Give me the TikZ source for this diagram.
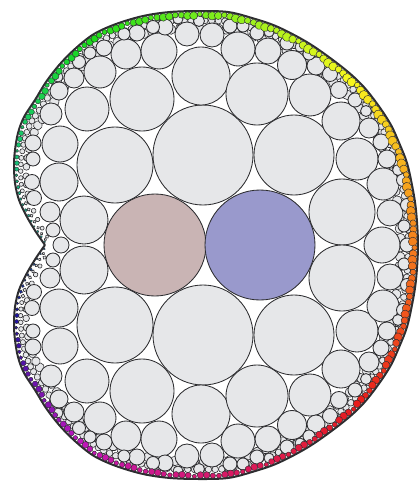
\documentclass[tikz,border=0pt]{standalone}
\usetikzlibrary{decorations.markings}
\definecolor{cfill}{RGB}{230,231,233}
\definecolor{cline}{RGB}{45,45,48}
\definecolor{cbrown}{RGB}{201,180,180}
\definecolor{cblue}{RGB}{153,153,204}
\tikzset{disc/.style={fill=cfill,draw=cline,line width=0.85pt},
  smalldisc/.style={fill=cfill,draw=cline,line width=0.6pt}}
\begin{document}
\begin{tikzpicture}[x=1pt,y=-1pt]
\useasboundingbox (0,0) rectangle (420,482);
% dark outer band
\draw[cline,line width=2pt,line join=round] plot[smooth,tension=0.55] coordinates {
(45,245) (36,232) (27,217) (19,200) (15,183) (14,165) (15,150) (18,133) (24,117) (35,100) (46,82) (60,64) (76,48) (94,34) (116,24) (143,16) (170,12) (200,11) (228,12) (252,18) (278,27) (310,44) (342,67) (362,85) (378,105) (391,125) (400,145) (407,163) (412,185) (416,210) (418,245)
(416,280) (412,305) (407,327) (400,345) (391,365) (378,385) (362,405) (342,423) (310,446) (278,463) (252,472) (228,478) (200,479) (170,478) (143,474) (116,466) (94,456) (76,442) (60,426) (46,408) (35,390) (24,373) (18,357) (15,340) (14,325) (15,307) (19,290) (27,273) (36,258) (45,245)};
% inner layers of small circles along the boundary (partly hidden by larger circles)
\path[postaction={decorate},decoration={markings,
 mark=between positions 0.004 and 0.996 step 10pt with {
   \pgfmathsetmacro\s{\pgfkeysvalueof{/pgf/decoration/mark info/distance from start}/\pgfdecoratedpathlength}
   \pgfmathsetmacro\f{min(1,min(0.35+\s*6,0.35+(1-\s)*6))}
   \pgfmathsetmacro\rr{4.8*\f}
   \pgfmathsetmacro\off{-17.5*\f}
   \draw[smalldisc] (0pt,\off pt) circle[radius=\rr pt];
 }}] plot[smooth,tension=0.55] coordinates {
(45,245) (36,232) (27,217) (19,200) (15,183) (14,165) (15,150) (18,133) (24,117) (35,100) (46,82) (60,64) (76,48) (94,34) (116,24) (143,16) (170,12) (200,11) (228,12) (252,18) (278,27) (310,44) (342,67) (362,85) (378,105) (391,125) (400,145) (407,163) (412,185) (416,210) (418,245)
(416,280) (412,305) (407,327) (400,345) (391,365) (378,385) (362,405) (342,423) (310,446) (278,463) (252,472) (228,478) (200,479) (170,478) (143,474) (116,466) (94,456) (76,442) (60,426) (46,408) (35,390) (24,373) (18,357) (15,340) (14,325) (15,307) (19,290) (27,273) (36,258) (45,245)};
\path[postaction={decorate},decoration={markings,
 mark=between positions 0.003 and 0.997 step 7pt with {
   \pgfmathsetmacro\s{\pgfkeysvalueof{/pgf/decoration/mark info/distance from start}/\pgfdecoratedpathlength}
   \pgfmathsetmacro\f{min(1,min(0.35+\s*6,0.35+(1-\s)*6))}
   \pgfmathsetmacro\rr{3.3*\f}
   \pgfmathsetmacro\off{-9.5*\f}
   \draw[smalldisc] (0pt,\off pt) circle[radius=\rr pt];
 }}] plot[smooth,tension=0.55] coordinates {
(45,245) (36,232) (27,217) (19,200) (15,183) (14,165) (15,150) (18,133) (24,117) (35,100) (46,82) (60,64) (76,48) (94,34) (116,24) (143,16) (170,12) (200,11) (228,12) (252,18) (278,27) (310,44) (342,67) (362,85) (378,105) (391,125) (400,145) (407,163) (412,185) (416,210) (418,245)
(416,280) (412,305) (407,327) (400,345) (391,365) (378,385) (362,405) (342,423) (310,446) (278,463) (252,472) (228,478) (200,479) (170,478) (143,474) (116,466) (94,456) (76,442) (60,426) (46,408) (35,390) (24,373) (18,357) (15,340) (14,325) (15,307) (19,290) (27,273) (36,258) (45,245)};
% circles (upper half, mirrored)
\foreach \x/\y/\r in {
203/155/50, 294/155/40, 342/212/33, 115/165/38, 84/220/24,
53/230/7, 50/212/10, 59/182/19, 60/144/18, 87/109/22, 142/99/32, 201/76/29, 257/94/31, 310/95/21, 341/121/19, 357/159/21, 383/184/16, 390/213/13,
51/114/11, 59/91/9, 74/78/10, 100/72/16, 126/54/15, 159/51/18, 187/34/12, 212/35/12, 238/49/17, 268/51/13, 292/65/14.5, 316/66/9, 330/74/7.5, 339/90/8.5, 355/100/7, 369/128/10, 381/142/8, 387/159/9,
165/27/8, 153/27/6.5, 137/33/8, 124/34/6, 104/48/8, 90/53/6, 79/62/6.5, 58/77/5, 33/143/8, 33/159/7, 32/182/7.5, 34/198/7.5, 403/180/6.5, 407/205/6.5, 404/226/6,
230/26/7, 243/26/6, 257/33/7, 269/32/5, 287/43/7, 300/47/5, 309/54/6, 366/111/5.5, 398/170/5.5, 178/19/5, 199/21/5.5}
{
  \draw[disc] (\x,\y) circle[radius=\r pt];
  \draw[disc] (\x,490-\y) circle[radius=\r pt];
}
% circles on the axis
\draw[disc] (382,245) circle[radius=18pt];
\draw[disc] (61,245) circle[radius=8pt];
\draw[disc] (407,245) circle[radius=7pt];
\draw[disc,fill=cbrown] (155,245) circle[radius=51pt];
\draw[disc,fill=cblue] (260,245) circle[radius=55pt];
% coloured boundary circles
\path[postaction={decorate},decoration={markings,
 mark=between positions 0.002 and 0.998 step 6.2pt with {
   \pgfmathsetmacro\s{\pgfkeysvalueof{/pgf/decoration/mark info/distance from start}/\pgfdecoratedpathlength}
   \pgfmathsetmacro\q{mod(\pgfkeysvalueof{/pgf/decoration/mark info/sequence number},29)}
   \pgfmathsetmacro\hue{mod(175-330*\s+45*sin(180*\s*\s*\s)+720,360)}
   \pgfmathsetmacro\bri{0.8+0.17*cos(\hue-50)}
   \convertcolorspec{Hsb}{\hue,0.88,\bri}{rgb}\dotspec
   \definecolor{dotc}{rgb}{\dotspec}
   \pgfmathsetmacro\f{min(1,min(0.3+\s*6,0.3+(1-\s)*6))}
   \pgfmathsetmacro\base{3.3+1.5*exp(-((\s-0.42)/0.22)^2)}
   \pgfmathsetmacro\rr{\base*\f*(0.6+0.4*abs(sin(\q*137.5)))}
   \pgfmathsetmacro\off{-\rr-0.6}
   \filldraw[fill=dotc,draw=cline,line width=0.45pt] (0pt,\off pt) circle[radius=\rr pt];
 }}] plot[smooth,tension=0.55] coordinates {
(45,245) (36,232) (27,217) (19,200) (15,183) (14,165) (15,150) (18,133) (24,117) (35,100) (46,82) (60,64) (76,48) (94,34) (116,24) (143,16) (170,12) (200,11) (228,12) (252,18) (278,27) (310,44) (342,67) (362,85) (378,105) (391,125) (400,145) (407,163) (412,185) (416,210) (418,245)
(416,280) (412,305) (407,327) (400,345) (391,365) (378,385) (362,405) (342,423) (310,446) (278,463) (252,472) (228,478) (200,479) (170,478) (143,474) (116,466) (94,456) (76,442) (60,426) (46,408) (35,390) (24,373) (18,357) (15,340) (14,325) (15,307) (19,290) (27,273) (36,258) (45,245)};
\end{tikzpicture}
\end{document}
